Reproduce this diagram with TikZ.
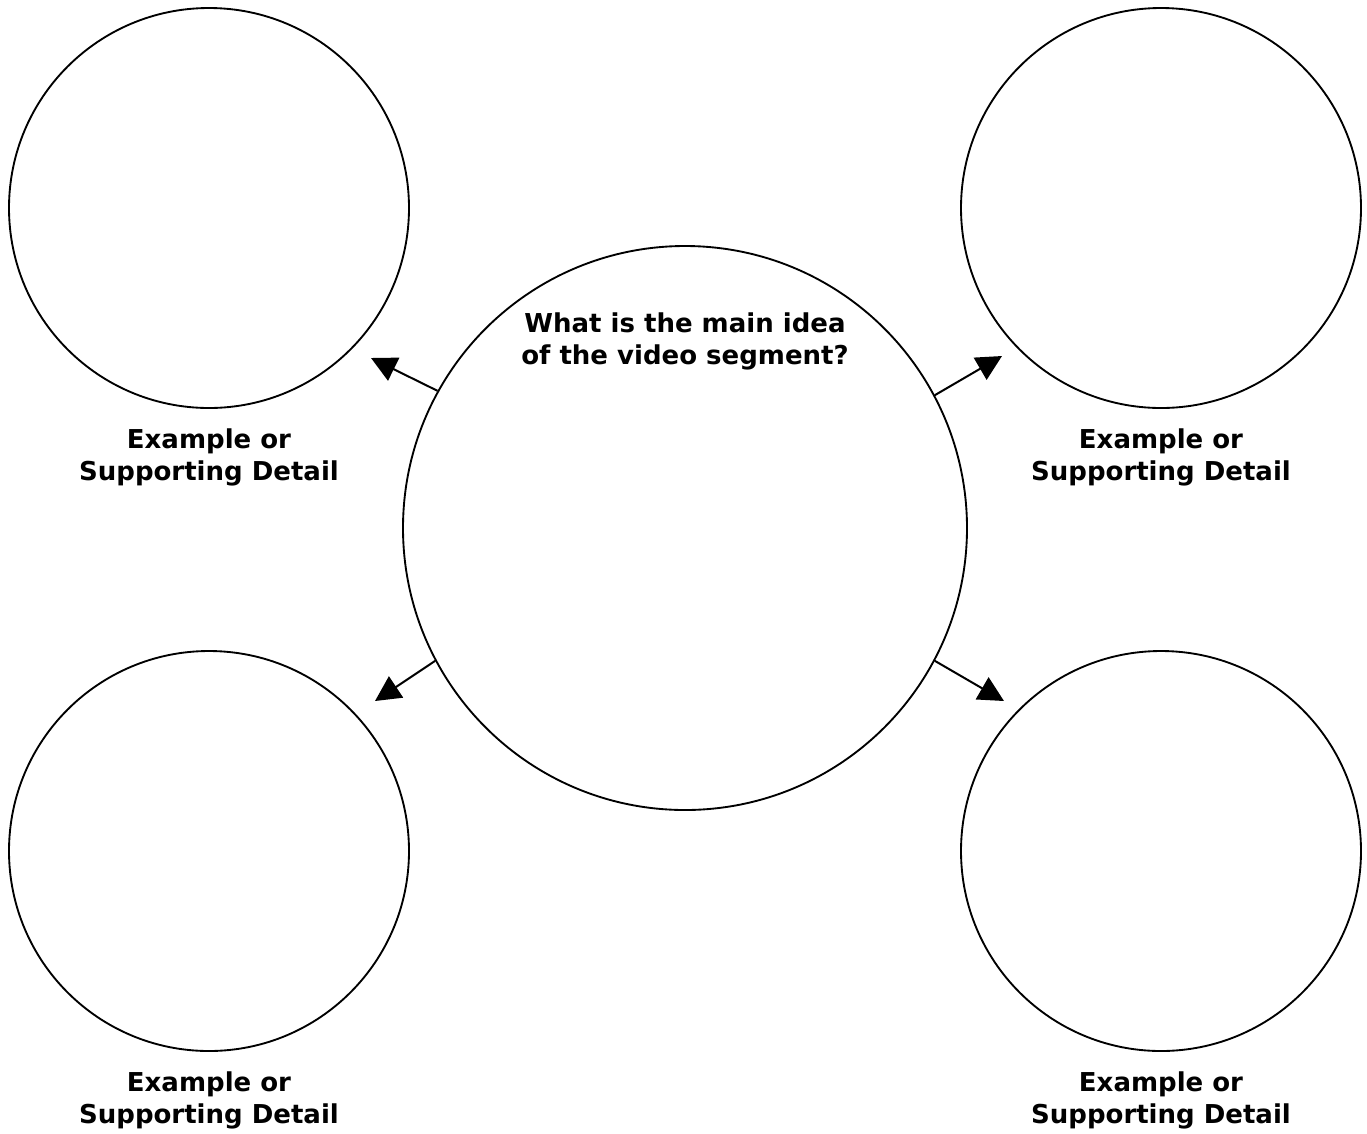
\documentclass[tikz,border=0pt]{standalone}
\usepackage{fontspec}
\setmainfont{DejaVu Sans}
\usetikzlibrary{arrows.meta}
\begin{document}
\begin{tikzpicture}[x=0.75pt,y=-0.75pt,
  bubble/.style={draw=black,line width=1.4pt,circle,inner sep=0pt,minimum size=300pt},
  hub/.style={draw=black,line width=1.4pt,circle,inner sep=0pt,minimum size=423pt},
  lbl/.style={align=center,font=\bfseries\fontsize{19.5}{24}\selectfont,inner sep=0pt},
  conn/.style={line width=1.5pt,-{Triangle[length=19pt,width=19pt]}}]
\useasboundingbox (0,0) rectangle (1367,1133);
\node[hub] (c) at (685,528) {};
\node[bubble] (tl) at (209,208) {};
\node[bubble] (tr) at (1161,208) {};
\node[bubble] (bl) at (209,851) {};
\node[bubble] (br) at (1161,851) {};
\node[lbl] (q) at (685,341) {What is the main idea\\of the video segment?};
\node[lbl] (ltl) at (209,457) {Example or\\Supporting Detail};
\node[lbl] (ltr) at (1161,457) {Example or\\Supporting Detail};
\node[lbl] (lbl) at (209,1100) {Example or\\Supporting Detail};
\node[lbl] (lbr) at (1161,1100) {Example or\\Supporting Detail};
\coordinate (atl) at (371,358);
\coordinate (atr) at (1002,356);
\coordinate (abl) at (375,701);
\coordinate (abr) at (1004,701);
\draw[conn] (c.151.8) -- (atl);
\draw[conn] (c.28.2) -- (atr);
\draw[conn] (c.208.9) -- (abl);
\draw[conn] (c.-28.4) -- (abr);
\end{tikzpicture}
\end{document}
